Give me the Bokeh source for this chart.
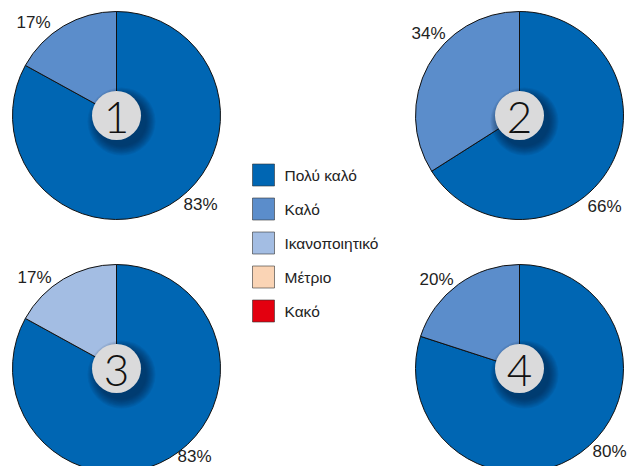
import math
from bokeh.plotting import figure
from bokeh.models import Range1d
from bokeh.core.properties import value
from bokeh.embed import file_html
from bokeh.resources import INLINE

# ---------------- data ----------------
categories = ["Πολύ καλό", "Καλό", "Ικανοποιητικό", "Μέτριο", "Κακό"]
colors = ["#0066B3", "#5B8DCB", "#A3BDE3", "#FAD4B5", "#E3000F"]

pie_numbers = ["1", "2", "3", "4"]
# share of each category (%) per pie, in legend order
pie1 = [83, 17, 0, 0, 0]
pie2 = [66, 34, 0, 0, 0]
pie3 = [83, 0, 17, 0, 0]
pie4 = [80, 20, 0, 0, 0]
pies = [pie1, pie2, pie3, pie4]

# ---------------- layout (screen pixels) ----------------
W, H = 632, 466
def sx(x):  # screen x -> data x
    return x
def sy(y):  # screen y -> data y (y up)
    return H - y

centers = [(116, 115), (519, 115), (116, 368), (519, 368)]
R = 104
# label offsets (dx, dy screen) for the first and second non-zero slice
label_offsets = [
    [(84, 89), (-83, -93)],
    [(85, 91), (-91, -82)],
    [(78, 88), (-82, -91)],
    [(90, 83), (-83, -89)],
]

p = figure(width=W, height=H, output_backend="svg", toolbar_location=None,
           x_range=Range1d(0, W), y_range=Range1d(0, H),
           min_border=0, outline_line_color=None)
p.axis.visible = False
p.grid.visible = False
p.background_fill_color = "white"
p.border_fill_color = "white"

for k, vals in enumerate(pies):
    cx, cy = centers[k]
    total = sum(vals)
    cum = 0.0
    nz = 0
    for i, v in enumerate(vals):
        if v <= 0:
            continue
        a0 = math.pi / 2 - 2 * math.pi * (cum + v) / total
        a1 = math.pi / 2 - 2 * math.pi * cum / total
        p.wedge(x=[sx(cx)], y=[sy(cy)], radius=R, start_angle=[a0], end_angle=[a1],
                fill_color=colors[i], line_color="#111111", line_width=1)
        dx, dy = label_offsets[k][nz]
        p.text(x=[sx(cx + dx)], y=[sy(cy + dy)], text=[f"{v}%"],
               text_font=value("Liberation Sans"), text_font_size="17px",
               text_color="#222222", text_align="center", text_baseline="middle")
        cum += v
        nz += 1
    # soft shadow
    for j in range(10):
        r = 34 - j * 1.0
        p.circle(x=[sx(cx + 5)], y=[sy(cy + 6)], radius=r,
                 fill_color="#001a33", fill_alpha=0.07, line_color=None)
    p.circle(x=[sx(cx)], y=[sy(cy)], radius=24.5,
             fill_color="#DADADB", line_color=None)
    p.text(x=[sx(cx)], y=[sy(cy + 2)], text=[pie_numbers[k]],
           text_font=value("Lato Light, Lato, sans-serif"), text_font_size="44px",
           text_color="#111111", text_align="center", text_baseline="middle")

# legend
lx, ly0, step = 263, 174.5, 34
for i, c in enumerate(categories):
    y = ly0 + i * step
    p.rect(x=[sx(lx)], y=[sy(y)], width=22, height=22, fill_color=colors[i],
           line_color="#333333", line_width=1, line_alpha=0.6)
    p.text(x=[sx(284)], y=[sy(y)], text=[c], text_font=value("Liberation Sans"),
           text_font_size="15.5px", text_color="#222222", text_align="left",
           text_baseline="middle")

open("out.html", "w").write(file_html(p, INLINE))
